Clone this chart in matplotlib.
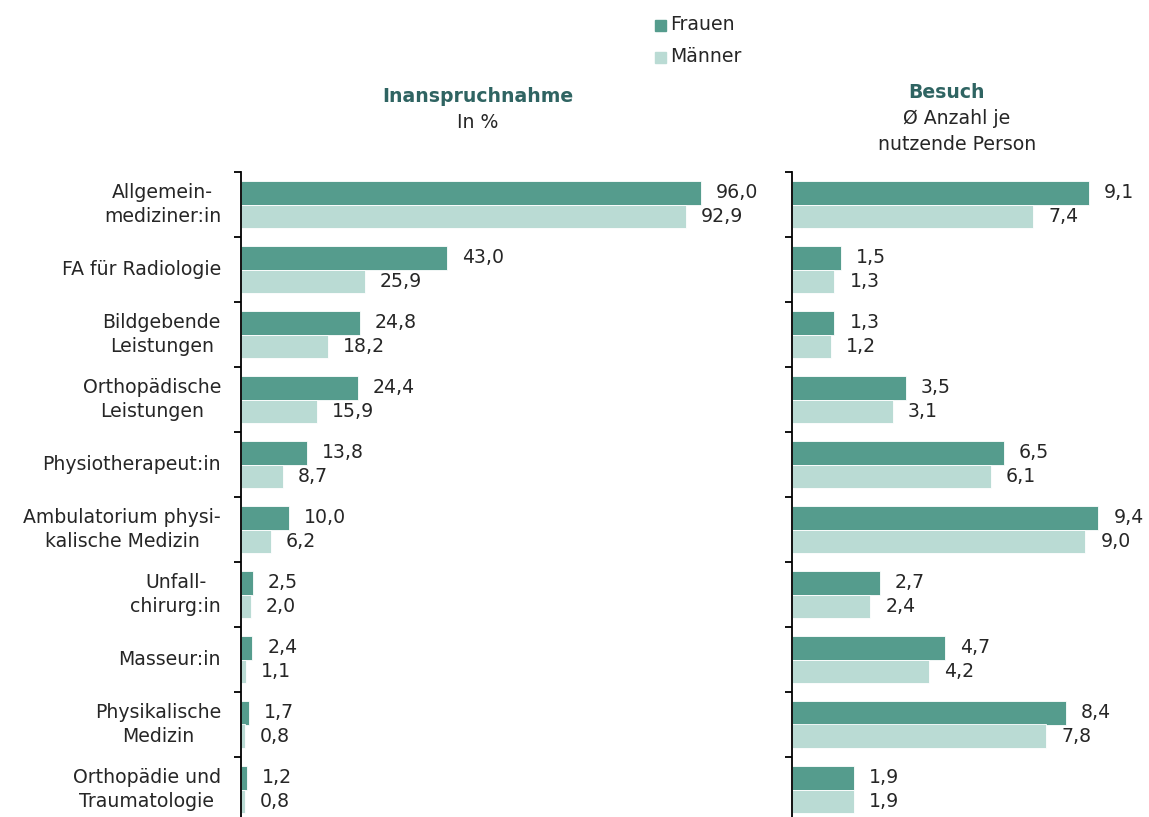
import matplotlib
matplotlib.use("Agg")
import matplotlib.pyplot as plt
import numpy as np

plt.rcParams['font.family'] = ['DejaVu Sans']

categories = [
    "Allgemein-\nmediziner:in",
    "FA für Radiologie",
    "Bildgebende\nLeistungen",
    "Orthopädische\nLeistungen",
    "Physiotherapeut:in",
    "Ambulatorium physi-\nkalische Medizin",
    "Unfall-\nchirurg:in",
    "Masseur:in",
    "Physikalische\nMedizin",
    "Orthopädie und\nTraumatologie",
]
use_women = [96.0, 43.0, 24.8, 24.4, 13.8, 10.0, 2.5, 2.4, 1.7, 1.2]
use_men = [92.9, 25.9, 18.2, 15.9, 8.7, 6.2, 2.0, 1.1, 0.8, 0.8]
visits_women = [9.1, 1.5, 1.3, 3.5, 6.5, 9.4, 2.7, 4.7, 8.4, 1.9]
visits_men = [7.4, 1.3, 1.2, 3.1, 6.1, 9.0, 2.4, 4.2, 7.8, 1.9]
series_names = ["Frauen", "Männer"]

c_women = "#559C8D"
c_men = "#BADBD4"
c_title = "#2F6462"
c_text = "#262626"

W, H = 1149, 817
fig = plt.figure(figsize=(W / 100, H / 100), dpi=100)

top_px, bottom_px = 172, 822
ax_b = (H - bottom_px) / H
ax_h = (bottom_px - top_px) / H

ax1 = fig.add_axes([241 / W, ax_b, 479 / W, ax_h])
ax2 = fig.add_axes([792 / W, ax_b, 326 / W, ax_h])

y = np.arange(len(categories))
bh = 0.362
fs = 13.6


def draw(ax, women, men, xmax, offset_px):
    ax.barh(y - bh / 2, women, height=bh, color=c_women, edgecolor="white", linewidth=0.6)
    ax.barh(y + bh / 2, men, height=bh, color=c_men, edgecolor="white", linewidth=0.6)
    ax.set_xlim(0, xmax)
    ax.set_ylim(len(categories) - 0.5, -0.5)
    for s in ["top", "right", "bottom"]:
        ax.spines[s].set_visible(False)
    ax.spines["left"].set_linewidth(1.3)
    ax.set_xticks([])
    ax.set_yticks(np.arange(len(categories) + 1) - 0.5)
    ax.set_yticklabels([])
    ax.tick_params(axis="y", length=5, width=1.3, direction="out")
    dx = offset_px * xmax / (ax.get_position().width * W)
    for i, (w, m) in enumerate(zip(women, men)):
        ax.text(w + dx, i - bh / 2, f"{w:.1f}".replace(".", ","), va="center", ha="left",
                fontsize=fs, color=c_text)
        ax.text(m + dx, i + bh / 2, f"{m:.1f}".replace(".", ","), va="center", ha="left",
                fontsize=fs, color=c_text)


draw(ax1, use_women, use_men, 100, 15)
draw(ax2, visits_women, visits_men, 10, 15)

for i, lab in enumerate(categories):
    ax1.annotate(lab, xy=(0, i), xycoords=("axes fraction", "data"), xytext=(-20, 0),
                 textcoords="offset pixels", ha="right", va="center", multialignment="center",
                 fontsize=fs, color=c_text, linespacing=1.3)

# Panel headers
fig.text(478 / W, 1 - 96 / H, "Inanspruchnahme", ha="center", va="center",
         fontsize=fs, fontweight="bold", color=c_title)
fig.text(478 / W, 1 - 122 / H, "In %", ha="center", va="center", fontsize=fs, color=c_text)
fig.text(946 / W, 1 - 93 / H, "Besuch", ha="center", va="center",
         fontsize=fs, fontweight="bold", color=c_title)
fig.text(957 / W, 1 - 119 / H, "Ø Anzahl je", ha="center", va="center", fontsize=fs, color=c_text)
fig.text(957 / W, 1 - 144 / H, "nutzende Person", ha="center", va="center", fontsize=fs, color=c_text)

# Legend
for k, (name, col) in enumerate(zip(series_names, [c_women, c_men])):
    yc = 1 - (25 + 32 * k) / H
    fig.patches.append(matplotlib.patches.Rectangle((655 / W, yc - 6 / H), 11 / W, 11 / H,
                                                     transform=fig.transFigure, color=col))
    fig.text(670 / W, yc, name, ha="left", va="center", fontsize=fs, color=c_text)

fig.savefig("out.png", dpi=100)
